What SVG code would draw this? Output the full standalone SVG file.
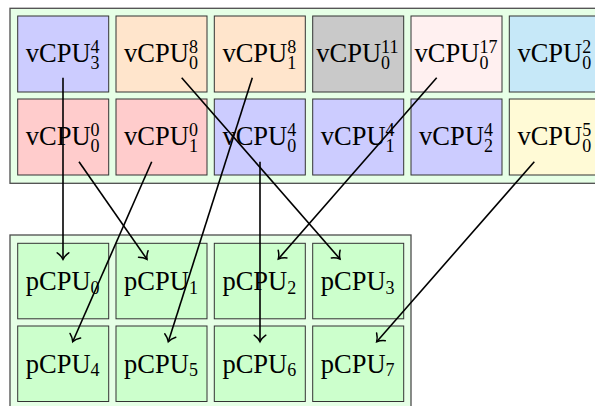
<svg xmlns="http://www.w3.org/2000/svg" width="595" height="406" viewBox="0 0 595 406">
  <style>
    .frame { fill: #e6ffe6; stroke: #4d4d4d; stroke-width: 1.3; }
    .box { stroke: #333333; stroke-width: 1; }
    .blue { fill: #ccccff; }
    .peach { fill: #ffe5cc; }
    .grey { fill: #c9c9c9; }
    .rose { fill: #fff0f0; }
    .sky { fill: #c6e8f8; }
    .red { fill: #ffcccc; }
    .lemon { fill: #fffad6; }
    .green { fill: #ccffcc; }
    text { font-family: "Liberation Serif", "Times New Roman", serif; font-size: 26.5px; fill: #000; }
    .s { font-size: 18px; }
    .edge { stroke: #000; stroke-width: 1.6; fill: none; marker-end: url(#tip); }
  </style>
  <defs>
    <marker id="tip" viewBox="-9 -8 11 16" refX="0" refY="0" markerWidth="11" markerHeight="16" markerUnits="userSpaceOnUse" orient="auto" overflow="visible">
      <path d="M -6.5 -5.8 C -4.2 -2.6 -1.6 -0.8 0 0 C -1.6 0.8 -4.2 2.6 -6.5 5.8" fill="none" stroke="#000" stroke-width="1.5" stroke-linecap="round"/>
    </marker>
  </defs>

  <!-- virtual CPU pool -->
  <rect class="frame" x="10" y="8.3" width="620" height="175"/>

  <g id="vcpu-4-3"><rect class="box blue" x="17.7" y="16" width="91" height="76"/>
    <text x="25.8" y="62.3">vCPU<tspan class="s" x="90.6" y="52.5">4</tspan><tspan class="s" x="90.6" y="69">3</tspan></text></g>
  <g id="vcpu-8-0"><rect class="box peach" x="116" y="16" width="91" height="76"/>
    <text x="124.1" y="62.3">vCPU<tspan class="s" x="188.9" y="52.5">8</tspan><tspan class="s" x="188.9" y="69">0</tspan></text></g>
  <g id="vcpu-8-1"><rect class="box peach" x="214.3" y="16" width="91" height="76"/>
    <text x="222.4" y="62.3">vCPU<tspan class="s" x="287.2" y="52.5">8</tspan><tspan class="s" x="287.2" y="69">1</tspan></text></g>
  <g id="vcpu-11-0"><rect class="box grey" x="312.7" y="16" width="91" height="76"/>
    <text x="316.3" y="62.3">vCPU<tspan class="s" x="381.1" y="52.5">11</tspan><tspan class="s" x="381.1" y="69">0</tspan></text></g>
  <g id="vcpu-17-0"><rect class="box rose" x="411" y="16" width="91" height="76"/>
    <text x="414.6" y="62.3">vCPU<tspan class="s" x="479.4" y="52.5">17</tspan><tspan class="s" x="479.4" y="69">0</tspan></text></g>
  <g id="vcpu-2-0"><rect class="box sky" x="509.3" y="16" width="91" height="76"/>
    <text x="517.4" y="62.3">vCPU<tspan class="s" x="582.2" y="52.5">2</tspan><tspan class="s" x="582.2" y="69">0</tspan></text></g>

  <g id="vcpu-0-0"><rect class="box red" x="17.7" y="99" width="91" height="76"/>
    <text x="25.8" y="145.3">vCPU<tspan class="s" x="90.6" y="135.5">0</tspan><tspan class="s" x="90.6" y="152">0</tspan></text></g>
  <g id="vcpu-0-1"><rect class="box red" x="116" y="99" width="91" height="76"/>
    <text x="124.1" y="145.3">vCPU<tspan class="s" x="188.9" y="135.5">0</tspan><tspan class="s" x="188.9" y="152">1</tspan></text></g>
  <g id="vcpu-4-0"><rect class="box blue" x="214.3" y="99" width="91" height="76"/>
    <text x="222.4" y="145.3">vCPU<tspan class="s" x="287.2" y="135.5">4</tspan><tspan class="s" x="287.2" y="152">0</tspan></text></g>
  <g id="vcpu-4-1"><rect class="box blue" x="312.7" y="99" width="91" height="76"/>
    <text x="320.8" y="145.3">vCPU<tspan class="s" x="385.6" y="135.5">4</tspan><tspan class="s" x="385.6" y="152">1</tspan></text></g>
  <g id="vcpu-4-2"><rect class="box blue" x="411" y="99" width="91" height="76"/>
    <text x="419.1" y="145.3">vCPU<tspan class="s" x="483.9" y="135.5">4</tspan><tspan class="s" x="483.9" y="152">2</tspan></text></g>
  <g id="vcpu-5-0"><rect class="box lemon" x="509.3" y="99" width="91" height="76"/>
    <text x="517.4" y="145.3">vCPU<tspan class="s" x="582.2" y="135.5">5</tspan><tspan class="s" x="582.2" y="152">0</tspan></text></g>

  <!-- physical CPU pool -->
  <rect class="frame" x="10" y="235" width="401" height="190"/>

  <g id="pcpu-0"><rect class="box green" x="17.7" y="243.3" width="91" height="75.5"/>
    <text x="25.8" y="290.3">pCPU<tspan class="s" x="90.6" y="293.5">0</tspan></text></g>
  <g id="pcpu-1"><rect class="box green" x="116" y="243.3" width="91" height="75.5"/>
    <text x="124.1" y="290.3">pCPU<tspan class="s" x="188.9" y="293.5">1</tspan></text></g>
  <g id="pcpu-2"><rect class="box green" x="214.3" y="243.3" width="91" height="75.5"/>
    <text x="222.4" y="290.3">pCPU<tspan class="s" x="287.2" y="293.5">2</tspan></text></g>
  <g id="pcpu-3"><rect class="box green" x="312.7" y="243.3" width="91" height="75.5"/>
    <text x="320.8" y="290.3">pCPU<tspan class="s" x="385.6" y="293.5">3</tspan></text></g>
  <g id="pcpu-4"><rect class="box green" x="17.7" y="326" width="91" height="75.5"/>
    <text x="25.8" y="373">pCPU<tspan class="s" x="90.6" y="376.2">4</tspan></text></g>
  <g id="pcpu-5"><rect class="box green" x="116" y="326" width="91" height="75.5"/>
    <text x="124.1" y="373">pCPU<tspan class="s" x="188.9" y="376.2">5</tspan></text></g>
  <g id="pcpu-6"><rect class="box green" x="214.3" y="326" width="91" height="75.5"/>
    <text x="222.4" y="373">pCPU<tspan class="s" x="287.2" y="376.2">6</tspan></text></g>
  <g id="pcpu-7"><rect class="box green" x="312.7" y="326" width="91" height="75.5"/>
    <text x="320.8" y="373">pCPU<tspan class="s" x="385.6" y="376.2">7</tspan></text></g>

  <!-- vCPU to pCPU placements -->
  <g id="edges">
    <line class="edge" x1="63" y1="77.7" x2="63" y2="259.3"/>
    <line class="edge" x1="79" y1="161.7" x2="147" y2="259.3"/>
    <line class="edge" x1="151.7" y1="161.7" x2="72.7" y2="341.7"/>
    <line class="edge" x1="181.7" y1="77.7" x2="340" y2="259"/>
    <line class="edge" x1="252.3" y1="77.7" x2="168.3" y2="341.7"/>
    <line class="edge" x1="260" y1="161.7" x2="260" y2="341.7"/>
    <line class="edge" x1="436.7" y1="77.7" x2="278.3" y2="259"/>
    <line class="edge" x1="534.3" y1="161.7" x2="376.7" y2="341.7"/>
  </g>
</svg>
